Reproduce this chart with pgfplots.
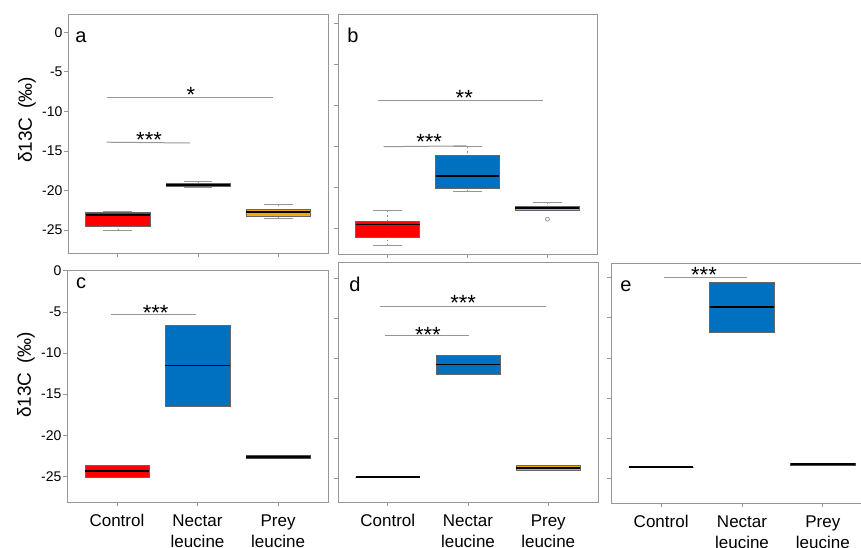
\documentclass[border=0pt]{standalone}
\usepackage{fontspec}
\setmainfont{Liberation Sans}
\usepackage{pgfplots}
\pgfplotsset{compat=1.18}
\usepgfplotslibrary{statistics}

\definecolor{cred}{RGB}{255,0,0}
\definecolor{cblue}{RGB}{0,112,192}
\definecolor{cgold}{RGB}{236,176,0}
\definecolor{cframe}{RGB}{150,150,150}
\definecolor{csig}{RGB}{150,150,150}

\tikzset{
  stars/.style={font=\fontsize{22}{22}\selectfont, anchor=base, yshift=-12.6pt, inner sep=0pt},
  letter/.style={font=\fontsize{20}{24}\selectfont},
}

\pgfplotsset{
  panel/.style={
    scale only axis, anchor=south west,
    width=260pt,
    xmin=0.38, xmax=3.62,
    xtick={1,2,3}, ytick={-25,-20,-15,-10,-5,0},
    tick pos=left, tick align=outside,
    major tick length=4pt,
    axis line style={cframe, line width=0.8pt},
    tick style={cframe, line width=0.8pt},
    xticklabels={}, yticklabels={},
    tick label style={font=\fontsize{14}{16}\selectfont},
    clip=false,
    boxplot/draw direction=y,
    boxplot/box extend=0.8,
    boxplot/whisker extend=0.36,
    boxplot/every median/.style={black, line width=1.8pt},
    boxplot/draw/lower whisker/.code={
      \draw[csig, dash pattern=on 1.5pt off 3pt]
        (boxplot cs:\pgfplotsboxplotvalue{lower whisker}) --
        (boxplot cs:\pgfplotsboxplotvalue{lower quartile});
      \draw[csig, line width=1pt]
        (boxplot whisker cs:\pgfplotsboxplotvalue{lower whisker},0) --
        (boxplot whisker cs:\pgfplotsboxplotvalue{lower whisker},1);
    },
    boxplot/draw/upper whisker/.code={
      \draw[csig, dash pattern=on 1.5pt off 3pt]
        (boxplot cs:\pgfplotsboxplotvalue{upper whisker}) --
        (boxplot cs:\pgfplotsboxplotvalue{upper quartile});
      \draw[csig, line width=1pt]
        (boxplot whisker cs:\pgfplotsboxplotvalue{upper whisker},0) --
        (boxplot whisker cs:\pgfplotsboxplotvalue{upper whisker},1);
    },
  },
  nowhisk/.style={
    boxplot/draw/lower whisker/.code={},
    boxplot/draw/upper whisker/.code={},
  },
  sig/.style={csig, line width=1pt},
  catlabels/.style={
    xticklabels={Control,{Nectar\\leucine},{Prey\\leucine}},
    xticklabel style={font=\fontsize{17}{21}\selectfont, align=center, yshift=-5pt},
  },
  numlabels/.style={
    yticklabels={-25,-20,-15,-10,-5,0},
    yticklabel style={xshift=2pt},
  },
}

\begin{document}
\begin{tikzpicture}
\useasboundingbox (0,0) rectangle (861pt,547pt);

% ---- a ----
\begin{axis}[panel, numlabels, at={(68pt,294pt)}, height=239pt, ymin=-27.9, ymax=2.3]
\addplot[boxplot prepared={draw position=1, lower whisker=-25.0, lower quartile=-24.5,
  median=-23.1, upper quartile=-22.8, upper whisker=-22.7}, fill=cred, draw=black!60] coordinates {};
\addplot[boxplot prepared={draw position=2, lower whisker=-19.6, lower quartile=-19.5,
  median=-19.3, upper quartile=-19.1, upper whisker=-18.9}, fill=gray!60, draw=black!60] coordinates {};
\addplot[boxplot prepared={draw position=3, lower whisker=-23.5, lower quartile=-23.3,
  median=-22.7, upper quartile=-22.4, upper whisker=-21.8}, fill=cgold, draw=black!60] coordinates {};
\addplot[sig] coordinates {(0.86,-8.3) (2.94,-8.3)};
\addplot[sig] coordinates {(0.86,-13.9) (1.9,-14.0)};
\node[stars] at (axis cs:1.91,-7.3) {*};
\node[stars] at (axis cs:1.39,-13.0) {***};
\node[letter] at ([xshift=13pt,yshift=-23pt]rel axis cs:0,1) {a};
\node[rotate=90, font=\fontsize{19}{22}\selectfont] at ([xshift=-41pt]rel axis cs:0,0.556) {δ13C\hspace{0.45em}(‰)};
\end{axis}

% ---- b ----
\begin{axis}[panel, at={(338pt,293pt)}, width=259pt, height=240pt, ymin=-28.1, ymax=1.2]
\addplot[boxplot prepared={draw position=1, lower whisker=-27.1, lower quartile=-26.0,
  median=-24.5, upper quartile=-24.1, upper whisker=-22.8}, fill=cred, draw=black!60] coordinates {};
\addplot[boxplot prepared={draw position=2, lower whisker=-20.5, lower quartile=-20.1,
  median=-18.6, upper quartile=-16.0, upper whisker=-15.0}, fill=cblue, draw=black!60] coordinates {};
\addplot[boxplot prepared={draw position=3, lower whisker=-22.7, lower quartile=-22.7,
  median=-22.45, upper quartile=-22.3, upper whisker=-21.8}, fill=cgold, draw=black!60,
  mark=o, mark size=2pt, mark options={csig, line width=0.8pt}]
  table[row sep=\\, y index=0] {data\\ -23.85\\};
\addplot[sig] coordinates {(0.875,-9.4) (2.95,-9.4)};
\addplot[sig] coordinates {(0.95,-15.0) (1.99,-14.9)};
\node[stars] at (axis cs:1.96,-8.4) {**};
\node[stars] at (axis cs:1.52,-13.8) {***};
\node[letter] at ([xshift=15pt,yshift=-21pt]rel axis cs:0,1) {b};
\end{axis}

% ---- c ----
\begin{axis}[panel, numlabels, catlabels, at={(67pt,45pt)}, width=261pt, height=232pt, ymin=-28.1, ymax=0.1]
\addplot[nowhisk, boxplot prepared={draw position=1, lower whisker=-25.1, lower quartile=-25.1,
  median=-24.3, upper quartile=-23.6, upper whisker=-23.6}, fill=cred, draw=black!60] coordinates {};
\addplot[nowhisk, boxplot prepared={draw position=2, lower whisker=-16.4, lower quartile=-16.4,
  median=-11.5, upper quartile=-6.6, upper whisker=-6.6}, fill=cblue, draw=black!60] coordinates {};
\addplot[nowhisk, boxplot prepared={draw position=3, lower whisker=-22.75, lower quartile=-22.75,
  median=-22.6, upper quartile=-22.45, upper whisker=-22.45}, fill=black!70, draw=black!70] coordinates {};
\addplot[sig] coordinates {(0.93,-5.3) (1.98,-5.3)};
\node[stars] at (axis cs:1.48,-4.45) {***};
\node[letter] at ([xshift=14pt,yshift=-13pt]rel axis cs:0,1) {c};
\node[rotate=90, font=\fontsize{19}{22}\selectfont] at ([xshift=-41pt]rel axis cs:0,0.547) {δ13C\hspace{0.45em}(‰)};
\end{axis}

% ---- d ----
\begin{axis}[panel, catlabels, at={(338pt,45pt)}, height=240pt, ymin=-28.0, ymax=2.0]
\addplot[nowhisk, boxplot prepared={draw position=1, lower whisker=-24.9, lower quartile=-24.9,
  median=-24.9, upper quartile=-24.9, upper whisker=-24.9}, draw=black] coordinates {};
\addplot[nowhisk, boxplot prepared={draw position=2, lower whisker=-12.0, lower quartile=-12.0,
  median=-10.8, upper quartile=-9.6, upper whisker=-9.6}, fill=cblue, draw=black!60] coordinates {};
\addplot[nowhisk, boxplot prepared={draw position=3, lower whisker=-24.0, lower quartile=-24.0,
  median=-23.7, upper quartile=-23.4, upper whisker=-23.4}, fill=cgold, draw=black!60] coordinates {};
\addplot[sig] coordinates {(0.9,-3.55) (2.97,-3.55)};
\addplot[sig] coordinates {(0.96,-7.2) (2.01,-7.2)};
\node[stars] at (axis cs:1.94,-2.5) {***};
\node[stars] at (axis cs:1.5,-6.45) {***};
\node[letter] at ([xshift=17pt,yshift=-22pt]rel axis cs:0,1) {d};
\end{axis}

% ---- e ----
\begin{axis}[panel, catlabels, at={(611pt,44pt)}, width=262pt, height=240pt, ymin=-28.06, ymax=1.83]
\addplot[nowhisk, boxplot prepared={draw position=1, lower whisker=-23.6, lower quartile=-23.6,
  median=-23.6, upper quartile=-23.6, upper whisker=-23.6}, draw=black] coordinates {};
\addplot[nowhisk, boxplot prepared={draw position=2, lower whisker=-6.8, lower quartile=-6.8,
  median=-3.6, upper quartile=-0.5, upper whisker=-0.5}, fill=cblue, draw=black!60] coordinates {};
\addplot[nowhisk, boxplot prepared={draw position=3, lower whisker=-23.35, lower quartile=-23.35,
  median=-23.2, upper quartile=-23.05, upper whisker=-23.05}, fill=black!70, draw=black!70] coordinates {};
\addplot[sig] coordinates {(1.04,0.05) (2.06,0.05)};
\node[stars] at (axis cs:1.53,0.96) {***};
\node[letter] at ([xshift=15pt,yshift=-23pt]rel axis cs:0,1) {e};
\end{axis}
\end{tikzpicture}
\end{document}
